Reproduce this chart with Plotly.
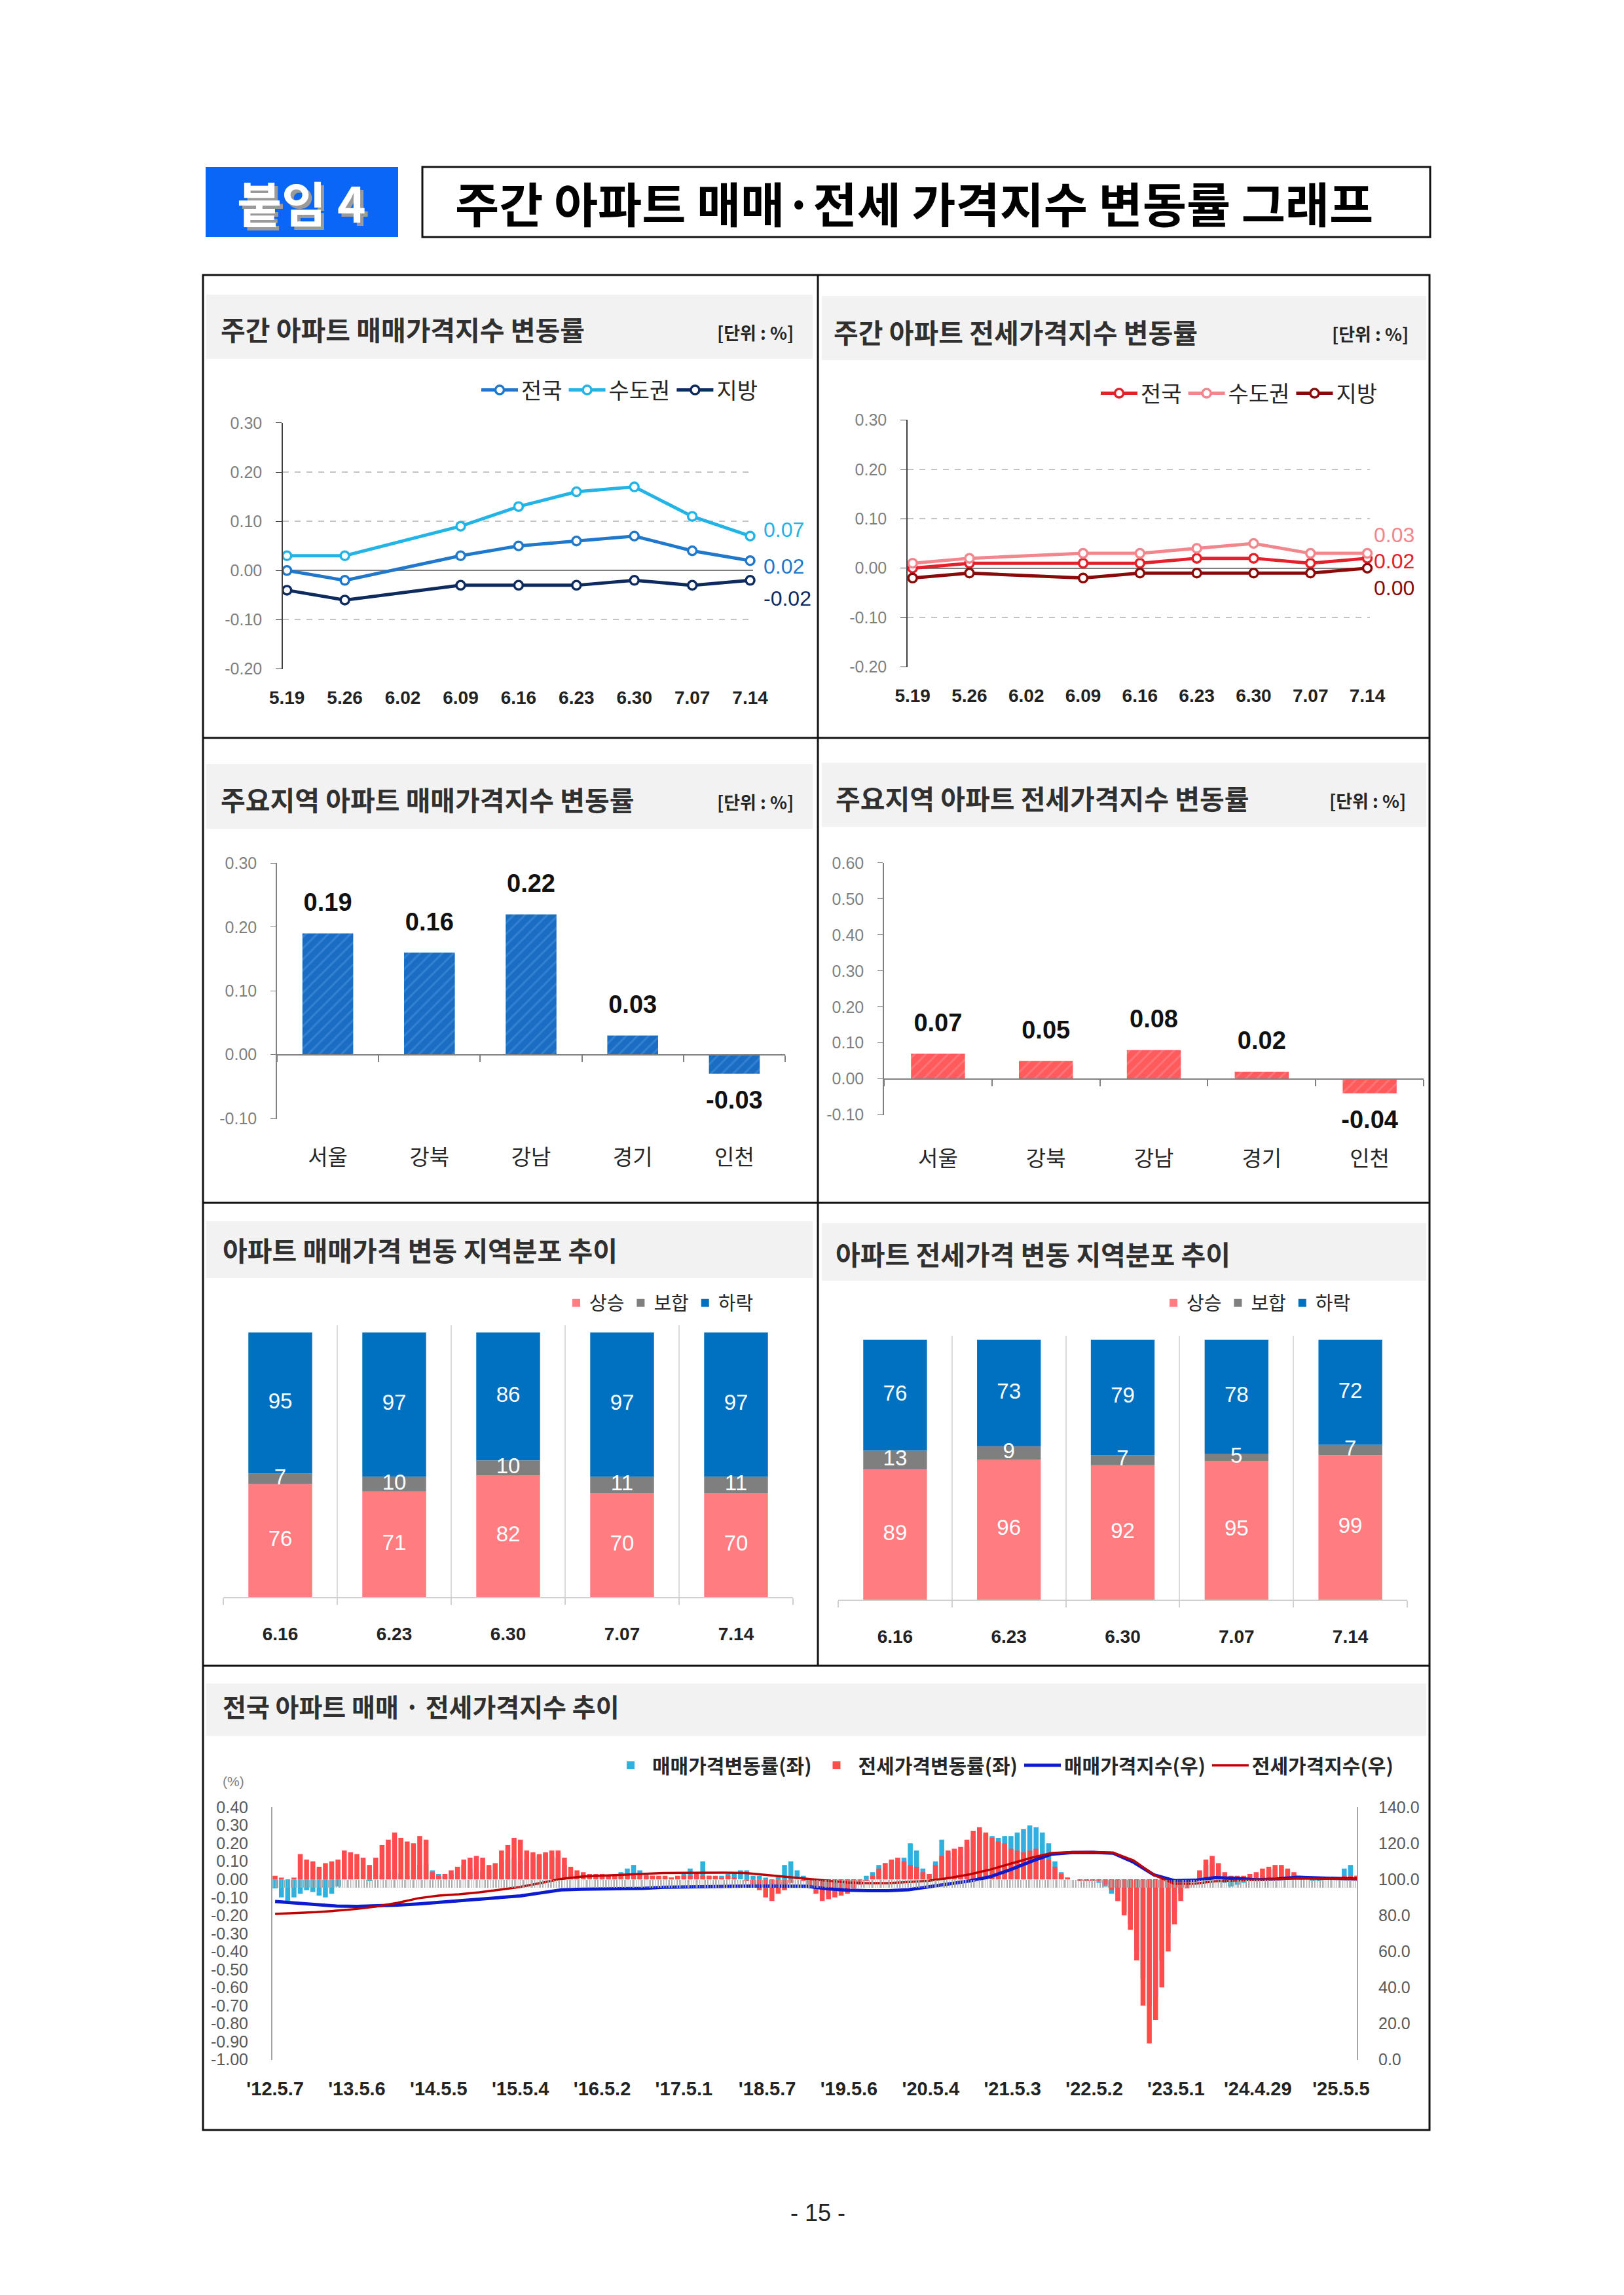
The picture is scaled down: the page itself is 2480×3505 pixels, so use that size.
import plotly.graph_objects as go
import pandas as pd

W, H = 2480, 3505


def px(x):
    return x / W


def py(y):
    return 1 - y / H


KR = "Noto Sans CJK KR, Noto Sans, sans-serif"
SANS = "Liberation Sans, Noto Sans, sans-serif"

# ---------------- data ----------------
weeks = ["5.19", "5.26", "6.02", "6.09", "6.16", "6.23", "6.30", "7.07", "7.14"]
series_names = ["전국", "수도권", "지방"]
sale_nat = [0.00, -0.02, None, 0.03, 0.05, 0.06, 0.07, 0.04, 0.02]
sale_cap = [0.03, 0.03, None, 0.09, 0.13, 0.16, 0.17, 0.11, 0.07]
sale_reg = [-0.04, -0.06, None, -0.03, -0.03, -0.03, -0.02, -0.03, -0.02]
jeon_nat = [0.00, 0.01, None, 0.01, 0.01, 0.02, 0.02, 0.01, 0.02]
jeon_cap = [0.01, 0.02, None, 0.03, 0.03, 0.04, 0.05, 0.03, 0.03]
jeon_reg = [-0.02, -0.01, None, -0.02, -0.01, -0.01, -0.01, -0.01, 0.00]

regions = ["서울", "강북", "강남", "경기", "인천"]
sale_region = [0.19, 0.16, 0.22, 0.03, -0.03]
jeon_region = [0.07, 0.05, 0.08, 0.02, -0.04]

dist_weeks = ["6.16", "6.23", "6.30", "7.07", "7.14"]
dist_names = ["상승", "보합", "하락"]
sale_up = [76, 71, 82, 70, 70]
sale_flat = [7, 10, 10, 11, 11]
sale_down = [95, 97, 86, 97, 97]
jeon_up = [89, 96, 92, 95, 99]
jeon_flat = [13, 9, 7, 5, 7]
jeon_down = [76, 73, 79, 78, 72]

# long series: weekly rates sampled every 4 weeks from 2012-05-07
rate_start = "2012-05-07"
sale_rate = [
    -0.05, -0.10, -0.12, -0.10, -0.08, -0.06, -0.07, -0.09, -0.10, -0.08, -0.04, 0.01, 0.02,
    0.00, 0.00, -0.01, 0.00, 0.03, 0.05, 0.04, 0.03, 0.02, 0.05, 0.08, 0.09, 0.05,
    0.03, 0.02, 0.03, 0.05, 0.08, 0.06, 0.04, 0.05, 0.05, 0.08, 0.10, 0.11, 0.12,
    0.10, 0.11, 0.12, 0.13, 0.14, 0.13, 0.12, 0.08, 0.03, 0.01, 0.00, 0.00, 0.01,
    0.02, 0.02, 0.03, 0.04, 0.06, 0.08, 0.05, 0.03, 0.02, 0.01, 0.01, 0.01, 0.01,
    0.03, 0.06, 0.04, 0.10, 0.02, 0.01, 0.02, 0.03, 0.03, 0.05, 0.05, 0.02, 0.02,
    0.01, 0.00, 0.02, 0.08, 0.10, 0.05, 0.02, -0.02, -0.05, -0.08, -0.09, -0.08, -0.07,
    -0.06, -0.03, 0.00, 0.02, 0.04, 0.08, 0.09, 0.10, 0.10, 0.12, 0.20, 0.16, 0.06,
    0.03, 0.10, 0.22, 0.15, 0.12, 0.13, 0.18, 0.24, 0.27, 0.25, 0.24, 0.23, 0.24,
    0.24, 0.26, 0.28, 0.30, 0.29, 0.26, 0.20, 0.10, 0.04, 0.01, 0.00, -0.01, -0.01,
    -0.01, -0.02, -0.04, -0.08, -0.12, -0.18, -0.25, -0.40, -0.55, -0.70, -0.65, -0.45, -0.30,
    -0.18, -0.08, -0.02, 0.00, 0.04, 0.08, 0.09, 0.04, -0.02, -0.04, -0.03, -0.02, -0.01,
    0.00, 0.02, 0.05, 0.06, 0.07, 0.05, 0.03, 0.01, 0.00, -0.01, -0.01, 0.00, 0.00,
    0.01, 0.06, 0.08, 0.02,
]
jeon_rate = [
    0.02, 0.01, 0.00, 0.01, 0.14, 0.11, 0.10, 0.07, 0.09, 0.10, 0.11, 0.16, 0.15,
    0.14, 0.12, 0.08, 0.12, 0.19, 0.22, 0.26, 0.23, 0.21, 0.20, 0.24, 0.22, 0.04,
    0.02, 0.03, 0.05, 0.07, 0.11, 0.12, 0.13, 0.12, 0.08, 0.09, 0.16, 0.19, 0.23,
    0.22, 0.16, 0.15, 0.14, 0.15, 0.16, 0.16, 0.12, 0.07, 0.05, 0.04, 0.03, 0.03,
    0.03, 0.02, 0.03, 0.02, 0.03, 0.02, 0.03, 0.02, 0.02, 0.02, 0.02, 0.01, 0.02,
    0.02, 0.02, 0.03, 0.02, 0.02, 0.02, 0.01, 0.02, 0.01, 0.00, -0.01, -0.04, -0.06,
    -0.10, -0.12, -0.08, -0.06, -0.02, 0.00, -0.01, -0.04, -0.08, -0.12, -0.11, -0.10, -0.09,
    -0.08, -0.05, -0.03, -0.01, 0.02, 0.06, 0.09, 0.11, 0.12, 0.10, 0.08, 0.07, 0.04,
    0.03, 0.08, 0.13, 0.16, 0.17, 0.18, 0.22, 0.27, 0.29, 0.26, 0.23, 0.21, 0.20,
    0.17, 0.16, 0.15, 0.16, 0.17, 0.14, 0.11, 0.07, 0.03, 0.01, 0.00, -0.01, -0.01,
    -0.01, -0.01, -0.03, -0.06, -0.12, -0.20, -0.28, -0.45, -0.70, -0.91, -0.78, -0.60, -0.40,
    -0.25, -0.12, -0.05, -0.01, 0.05, 0.11, 0.13, 0.09, 0.04, 0.02, 0.02, 0.02, 0.03,
    0.04, 0.06, 0.07, 0.08, 0.08, 0.06, 0.04, 0.02, 0.01, 0.01, 0.01, 0.01, 0.01,
    0.01, 0.02, 0.02, 0.02,
]
# index levels, sampled every 13 weeks (last point: latest week)
index_weeks = list(range(0, 677, 13)) + [688]
sale_index = [
    87.7, 86.8, 86.0, 85.2, 85.0, 85.3, 85.7, 86.4, 87.2, 88.0, 88.8, 89.8, 90.8,
    92.5, 94.2, 94.5, 94.6, 94.8, 95.0, 95.6, 95.8, 96.2, 96.2, 96.3, 96.3, 96.3,
    96.2, 94.8, 94.0, 93.7, 93.7, 94.3, 96.0, 97.3, 99.2, 101.5, 105.5, 110.0, 114.0,
    114.9, 115.0, 114.5, 109.5, 102.5, 99.3, 99.5, 101.0, 100.5, 99.8, 100.2, 101.2,
    100.8, 100.3, 100.2,
]
jeon_index = [
    80.8, 81.2, 81.8, 82.6, 83.6, 85.0, 87.0, 89.5, 91.0, 91.7, 92.8, 94.3, 95.8,
    98.0, 100.3, 101.5, 102.0, 102.5, 103.0, 103.5, 103.6, 103.7, 103.7, 103.5, 102.5, 101.3,
    100.5, 99.3, 98.3, 97.9, 97.9, 98.5, 99.3, 100.8, 102.8, 105.5, 108.7, 112.0, 114.6,
    115.2, 115.2, 114.8, 110.5, 102.5, 97.5, 97.6, 99.0, 99.5, 99.9, 100.2, 100.5,
    100.3, 100.2, 100.2,
]
long_tick_dates = ["2012-05-07", "2013-05-06", "2014-05-05", "2015-05-04", "2016-05-02",
                   "2017-05-01", "2018-05-07", "2019-05-06", "2020-05-04", "2021-05-03",
                   "2022-05-02", "2023-05-01", "2024-04-29", "2025-05-05"]
long_tick_text = ["'12.5.7", "'13.5.6", "'14.5.5", "'15.5.4", "'16.5.2", "'17.5.1", "'18.5.7",
                  "'19.5.6", "'20.5.4", "'21.5.3", "'22.5.2", "'23.5.1", "'24.4.29", "'25.5.5"]


# ---------------- helpers ----------------
def zero_pos(dom, rng):
    return dom[0] + (0 - rng[0]) / (rng[1] - rng[0]) * (dom[1] - dom[0])


def ticks_between(lo, hi, step, fmt):
    n = int(round((hi - lo) / step))
    vals = [round(lo + i * step, 6) for i in range(n + 1)]
    return vals, [format(v, fmt) for v in vals]


fig = go.Figure()
annotations = []
shapes = []

# ---------------- panel 1 & 2: weekly lines ----------------
x_idx = list(range(len(weeks)))
p1_cols = ["#1F78CC", "#22B4E6", "#0D2B5E"]
p2_cols = ["#E5202A", "#F3868C", "#8A0A0A"]
p1_shift = [-9, 10, -28]
p2_shift = [-4, 28, -30]
for vals_list, cols, shifts, xa, ya, lg, xs in [
        ([sale_nat, sale_cap, sale_reg], p1_cols, p1_shift, "x", "y", "legend", 18),
        ([jeon_nat, jeon_cap, jeon_reg], p2_cols, p2_shift, "x2", "y2", "legend2", 8)]:
    for name, vals, col, sh in zip(series_names, vals_list, cols, shifts):
        fig.add_trace(go.Scatter(
            x=x_idx, y=vals, name=name, mode="lines+markers", connectgaps=True,
            line=dict(color=col, width=5),
            marker=dict(symbol="circle", size=13, color="white", line=dict(color=col, width=3.5)),
            xaxis=xa, yaxis=ya, legend=lg, cliponaxis=False))
        annotations.append(dict(
            x=x_idx[-1], y=vals[-1], xref=xa, yref=ya, text=f"{vals[-1]:.2f}",
            showarrow=False, xanchor="left", yanchor="middle", xshift=xs, yshift=sh,
            font=dict(family=SANS, size=32, color=col)))

# ---------------- panel 3 & 4: region bars ----------------
for vals, xa, ya, col, fg in [
        (sale_region, "x3", "y3", "#1A6DC3", "#4C96E2"),
        (jeon_region, "x4", "y4", "#FF5A5C", "#FF9092")]:
    cat_idx = list(range(len(regions)))
    fig.add_trace(go.Bar(
        x=cat_idx, y=vals, width=0.5, xaxis=xa, yaxis=ya, showlegend=False,
        marker=dict(color=col, line=dict(width=0),
                    pattern=dict(shape="/", fgcolor=fg, bgcolor=col, size=12, solidity=0.25))))
    fig.add_trace(go.Scatter(
        x=cat_idx, y=vals, mode="markers+text", text=[f"{v:.2f}" for v in vals],
        textposition=["top center" if v >= 0 else "bottom center" for v in vals],
        marker=dict(size=38, opacity=0), xaxis=xa, yaxis=ya, showlegend=False,
        cliponaxis=False, textfont=dict(family=SANS, size=38, color="#111111", weight="bold")))

# ---------------- panel 5 & 6: stacked distribution ----------------
dist_cols = ["#FF7C80", "#7F7F7F", "#0070C0"]
for seg_list, xa, ya, lg in [
        ([sale_up, sale_flat, sale_down], "x5", "y5", "legend3"),
        ([jeon_up, jeon_flat, jeon_down], "x6", "y6", "legend4")]:
    cat_idx = list(range(len(dist_weeks)))
    base = [0] * len(cat_idx)
    for name, seg, col in zip(dist_names, seg_list, dist_cols):
        fig.add_trace(go.Bar(
            x=cat_idx, y=seg, base=base, width=0.56, name=name, xaxis=xa, yaxis=ya,
            legend=lg, marker=dict(color=col, line=dict(width=0))))
        fig.add_trace(go.Scatter(
            x=cat_idx, y=[b + v / 2 for b, v in zip(base, seg)], mode="text",
            text=[str(v) for v in seg], xaxis=xa, yaxis=ya, showlegend=False,
            cliponaxis=False, textfont=dict(family=SANS, size=33, color="#FFFFFF")))
        base = [b + v for b, v in zip(base, seg)]

# ---------------- panel 7: long series ----------------
rate_dates = pd.date_range(rate_start, periods=len(sale_rate), freq="28D")
bar_w = 22 * 86400000
fig.add_trace(go.Bar(x=rate_dates, y=sale_rate, width=bar_w, name="매매가격변동률(좌)",
                     marker=dict(color="#2FB0DD", line=dict(width=0)),
                     xaxis="x7", yaxis="y7", legend="legend5"))
fig.add_trace(go.Bar(x=rate_dates, y=jeon_rate, width=bar_w, name="전세가격변동률(좌)",
                     marker=dict(color="#FF4B4B", line=dict(width=0)),
                     xaxis="x7", yaxis="y7", legend="legend5"))
idx_dates = [pd.Timestamp(rate_start) + pd.Timedelta(weeks=w) for w in index_weeks]
fig.add_trace(go.Scatter(x=idx_dates, y=sale_index, mode="lines", name="매매가격지수(우)",
                         line=dict(color="#0A1BD0", width=5),
                         xaxis="x7", yaxis="y8", legend="legend5"))
fig.add_trace(go.Scatter(x=idx_dates, y=jeon_index, mode="lines", name="전세가격지수(우)",
                         line=dict(color="#C00000", width=3.5),
                         xaxis="x7", yaxis="y8", legend="legend5"))

# ---------------- axes ----------------
ytick_font = dict(family=SANS, size=25, color="#7F7F7F")
layout_axes = {}

# panel 1 / 2
tv12, tt12 = ticks_between(-0.2, 0.3, 0.1, ".2f")
for k, xdom, ydom, xr in [("", (424, 1142), (1014, 637.5), (-0.07, 8.05)),
                          ("2", (1378, 2084), (1011, 633), (-0.088, 8.046))]:
    layout_axes["xaxis" + k] = dict(
        domain=[px(xdom[0]), px(xdom[1])], range=list(xr), anchor="y" + k,
        tickmode="array", tickvals=x_idx, ticktext=weeks, showgrid=False, zeroline=False,
        showline=False, ticks="", ticklabelstandoff=24, automargin=False,
        tickfont=dict(family=SANS, size=28, color="#222222", weight="bold"))
    layout_axes["yaxis" + k] = dict(
        domain=[py(ydom[0]), py(ydom[1])], range=[-0.2005, 0.3005], anchor="x" + k,
        tickmode="array", tickvals=tv12, ticktext=tt12, showgrid=True, gridcolor="#C4C4C4",
        griddash="dash", gridwidth=1.5, zeroline=True, zerolinecolor="#7F7F7F",
        zerolinewidth=2, showline=True, linecolor="#404040", linewidth=1.5,
        ticks="outside", ticklen=9, tickcolor="#404040", tickfont=ytick_font,
        ticklabelstandoff=16, automargin=False)

# panel 3 / 4
for k, xdom, ydom, yr, so in [("3", (415, 1191), (1700.5, 1310), (-0.1005, 0.3005), 128),
                              ("4", (1342, 2166), (1695, 1309.5), (-0.1005, 0.6005), 93)]:
    yd = [py(ydom[0]), py(ydom[1])]
    tv, tt = ticks_between(-0.1, round(yr[1], 1), 0.1, ".2f")
    layout_axes["xaxis" + k] = dict(
        domain=[px(xdom[0]), px(xdom[1])], range=[-0.5, 4.5], anchor="free",
        position=zero_pos(yd, yr), tickmode="array", tickvals=list(range(len(regions))),
        ticktext=regions, showgrid=False, zeroline=False, showline=True,
        linecolor="#808080", linewidth=2, ticks="", ticklabelstandoff=so, automargin=False,
        tickfont=dict(family=KR, size=33, color="#262626"),
        minor=dict(tickmode="linear", tick0=-0.5, dtick=1, ticks="outside", ticklen=10,
                   tickcolor="#808080", tickwidth=2, showgrid=False))
    layout_axes["yaxis" + k] = dict(
        domain=yd, range=list(yr), anchor="x" + k, tickmode="array", tickvals=tv,
        ticktext=tt, showgrid=False, zeroline=False, showline=True, linecolor="#808080",
        linewidth=1.5, ticks="outside", ticklen=8, tickcolor="#808080", tickfont=ytick_font,
        ticklabelstandoff=16, automargin=False)

# panel 5 / 6
for k, xdom, ydom, bar_top, segs in [
        ("5", (333, 1203), (2431, 2016), 2027, [sale_up, sale_flat, sale_down]),
        ("6", (1272, 2141), (2435, 2032), 2038, [jeon_up, jeon_flat, jeon_down])]:
    total = max(sum(t) for t in zip(*segs))
    factor = (ydom[0] - ydom[1]) / (ydom[0] - bar_top)
    layout_axes["xaxis" + k] = dict(
        domain=[px(xdom[0]), px(xdom[1])], range=[-0.5, 4.5], anchor="y" + k,
        tickmode="array", tickvals=list(range(len(dist_weeks))), ticktext=dist_weeks,
        showgrid=False, zeroline=False, showline=True, linecolor="#D0D0D0", linewidth=2,
        ticks="", ticklabelstandoff=30, automargin=False,
        tickfont=dict(family=SANS, size=28, color="#222222", weight="bold"),
        minor=dict(tickmode="linear", tick0=-0.5, dtick=1, ticks="outside", ticklen=10,
                   tickcolor="#D0D0D0", tickwidth=1.5, showgrid=True, gridcolor="#DADADA",
                   gridwidth=1.5))
    layout_axes["yaxis" + k] = dict(
        domain=[py(ydom[0]), py(ydom[1])], range=[0, total * factor], anchor="x" + k,
        visible=False, automargin=False)

# panel 7
y7_dom = [py(3137.6), py(2752)]
y7_rng = [-1.0005, 0.4005]
tv7, tt7 = ticks_between(-1.0, 0.4, 0.1, ".2f")
tv8, tt8 = ticks_between(0, 140, 20, ".1f")
layout_axes["xaxis7"] = dict(
    type="date", domain=[px(408), px(2064)], range=["2012-04-25", "2025-07-14"],
    anchor="free", position=zero_pos(y7_dom, y7_rng), tickmode="array",
    tickvals=long_tick_dates, ticktext=long_tick_text, showgrid=False, zeroline=False,
    showline=False, ticks="", ticklabelstandoff=300, automargin=False,
    tickfont=dict(family=SANS, size=29, color="#222222", weight="bold"),
    minor=dict(tickmode="linear", tick0=rate_start, dtick=7 * 86400000, ticks="outside",
               ticklen=12, tickcolor="#A8A8A8", tickwidth=1.4, showgrid=False))
layout_axes["yaxis7"] = dict(
    domain=y7_dom, range=y7_rng, anchor="x7", tickmode="array", tickvals=tv7, ticktext=tt7,
    showgrid=False, zeroline=False, showline=True, linecolor="#A6A6A6", linewidth=2,
    ticks="", tickfont=dict(family=SANS, size=25, color="#595959"), ticklabelstandoff=30,
    automargin=False)
layout_axes["yaxis8"] = dict(
    domain=y7_dom, range=[-0.05, 140.05], overlaying="y7", side="right", anchor="x7",
    tickmode="array", tickvals=tv8, ticktext=tt8, showgrid=False, zeroline=False,
    showline=True, linecolor="#A6A6A6", linewidth=2, ticks="",
    tickfont=dict(family=SANS, size=25, color="#595959"), ticklabelstandoff=26,
    automargin=False)


# ---------------- shapes ----------------
def rect(x0, y0, x1, y1, fill=None, line_col=None, lw=0, layer="below"):
    return dict(type="rect", xref="paper", yref="paper", x0=px(x0), x1=px(x1),
                y0=py(y1), y1=py(y0), fillcolor=fill or "rgba(0,0,0,0)",
                line=dict(color=line_col or "rgba(0,0,0,0)", width=lw), layer=layer)


def hline(x0, x1, y, lw=3):
    return dict(type="line", xref="paper", yref="paper", x0=px(x0), x1=px(x1),
                y0=py(y), y1=py(y), line=dict(color="#111111", width=lw), layer="above")


def vline(x, y0, y1, lw=3):
    return dict(type="line", xref="paper", yref="paper", x0=px(x), x1=px(x),
                y0=py(y0), y1=py(y1), line=dict(color="#111111", width=lw), layer="above")


shapes.append(rect(306, 247, 600, 354, fill="#0A66F7"))
shapes.append(rect(637, 247, 2176, 354, line_col="#111111", lw=3, layer="above"))
for (x0, x1, y0, y1) in [(307, 1233, 442, 540), (1247, 2170, 444, 542),
                         (307, 1233, 1159, 1258), (1247, 2170, 1157, 1255),
                         (307, 1233, 1857, 1944), (1247, 2170, 1860, 1948),
                         (307, 2170, 2563, 2643)]:
    shapes.append(rect(x0, y0, x1, y1, fill="#F2F2F2"))
shapes.append(rect(302, 412, 2175, 3245, line_col="#111111", lw=3, layer="above"))
shapes.append(vline(1241, 412, 2536))
for yy in (1119, 1829, 2536):
    shapes.append(hline(302, 2175, yy))


# ---------------- text annotations ----------------
def ann(x, y, text, size, color="#262626", family=KR, xanchor="left", weight="normal"):
    annotations.append(dict(x=px(x), y=py(y), xref="paper", yref="paper", text=text,
                            showarrow=False, xanchor=xanchor, yanchor="middle",
                            font=dict(family=family, size=size, color=color, weight=weight)))


ann(457, 304, "붙임 4", 74, color="#9A9A9A", xanchor="center", weight="bold")
ann(453, 300, "붙임 4", 74, color="#FFFFFF", xanchor="center", weight="bold")
ann(1388, 300, "주간 아파트 매매·전세 가격지수 변동률 그래프", 73, color="#000000",
    xanchor="center", weight="bold")

panel_titles = [
    (327, 494, "주간 아파트 매매가격지수 변동률"),
    (1263, 498, "주간 아파트 전세가격지수 변동률"),
    (327, 1212, "주요지역 아파트 매매가격지수 변동률"),
    (1266, 1210, "주요지역 아파트 전세가격지수 변동률"),
    (330, 1900, "아파트 매매가격 변동 지역분포 추이"),
    (1266, 1906, "아파트 전세가격 변동 지역분포 추이"),
]
for x, y, t in panel_titles:
    ann(x, y, t, 41, color="#303030", weight="bold")
ann(330, 2597, "전국 아파트 매매 · 전세가격지수 추이", 39, color="#303030", weight="bold")
for x, y in [(1206, 499), (2145, 502), (1206, 1216), (2141, 1214)]:
    ann(x, y, "[단위 : %]", 27, color="#262626", xanchor="right", weight="bold")
ann(348, 2712, "(%)", 21, color="#7F7F7F", family=SANS, xanchor="center")
ann(1241, 3371, "- 15 -", 36, color="#222222", family=SANS, xanchor="center")


# ---------------- legends ----------------
def legend(x, y, size=32, weight="normal", itemwidth=56):
    return dict(x=px(x), y=py(y), xref="paper", yref="paper", xanchor="left",
                yanchor="middle", orientation="h", bgcolor="rgba(0,0,0,0)",
                itemwidth=itemwidth,
                font=dict(family=KR, size=size, color="#262626", weight=weight),
                tracegroupgap=0)


fig.update_layout(
    width=W, height=H, margin=dict(l=0, r=0, t=0, b=0, pad=0, autoexpand=False),
    paper_bgcolor="white", plot_bgcolor="white", barmode="overlay", showlegend=True,
    legend=legend(722, 588, size=34), legend2=legend(1668, 593, size=34),
    legend3=legend(852, 1982, size=29, itemwidth=30),
    legend4=legend(1764, 1982, size=29, itemwidth=30),
    legend5=legend(922, 2688, size=30, weight="bold"),
    shapes=shapes, annotations=annotations, **layout_axes)

fig.write_html("out.html")
